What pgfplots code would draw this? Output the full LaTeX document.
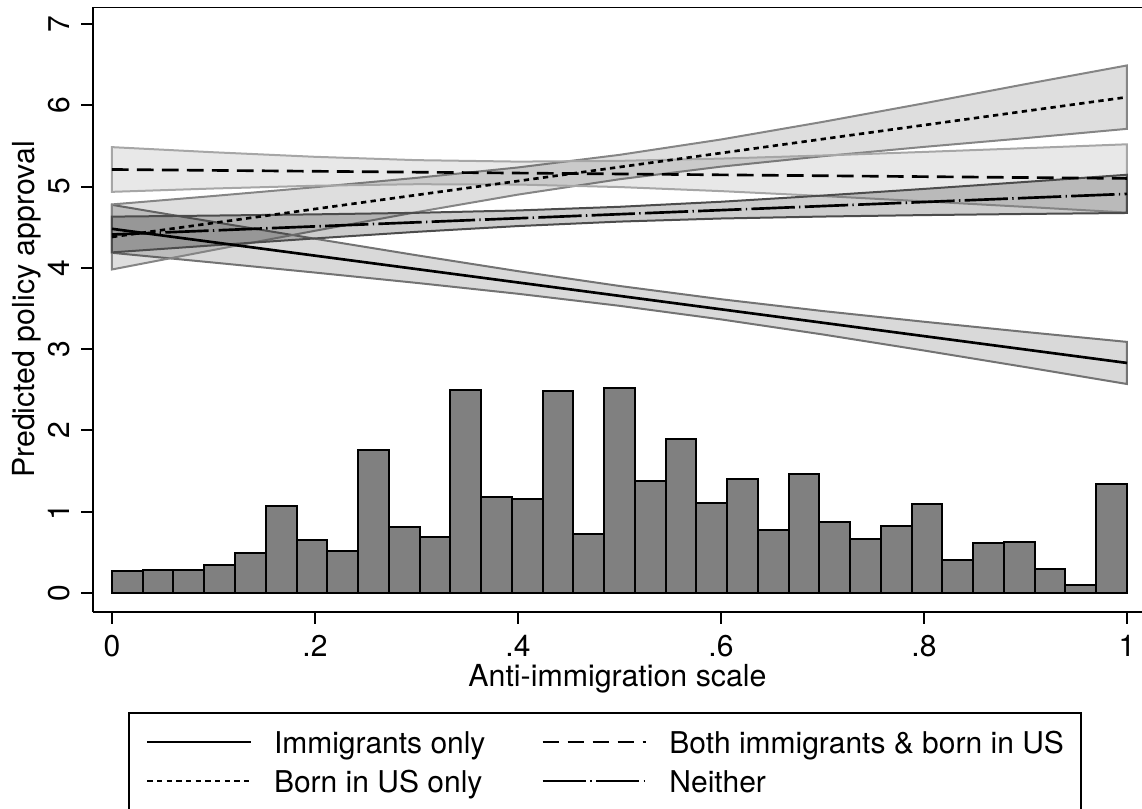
\documentclass[border=0pt]{standalone}
\usepackage{pgfplots}
\pgfplotsset{compat=1.18}
\usepackage{fontspec}
\setmainfont{TeX Gyre Heros}
\newcommand{\ff}{\fontsize{9}{10.8}\selectfont}
\newcommand{\fl}{\fontsize{9.1}{11}\selectfont}
\newcommand{\ft}{\fontsize{9}{10.8}\selectfont}
\begin{document}
\begin{tikzpicture}
\begin{axis}[
  scale only axis,
  width=314.7pt, height=181.5pt,
  xmin=-0.0187, xmax=1.0148,
  ymin=-0.234, ymax=7.209,
  axis x line*=bottom, axis y line*=left,
  axis line style={line width=0.6pt},
  tick align=outside,
  major tick length=3.5pt,
  every tick/.style={line width=0.6pt, black},
  xtick={0,0.2,0.4,0.6,0.8,1},
  xticklabels={0,.2,.4,.6,.8,1},
  ytick={0,1,2,3,4,5,6,7},
  /pgf/number format/assume math mode=true,
  tick label style={font=\ft},
  yticklabel style={rotate=90, anchor=south},
  xlabel={Anti-immigration scale},
  ylabel={Predicted policy approval},
  every axis x label/.style={at={(axis description cs:0.5,-0.1107)}, anchor=center, font=\fl},
  every axis y label/.style={at={(axis description cs:-0.0629,0.5)}, rotate=90, anchor=center, font=\fl},
  legend columns=2,
  legend cell align=left,
  legend style={at={(axis description cs:0.03337,-0.1653)}, anchor=north west,
    draw=black, line width=0.6pt, font=\ff,
    inner xsep=5.1pt, inner ysep=5.5pt,
    nodes={inner sep=0pt, text height=6.5pt, text depth=1.9pt},
    column sep=6.6pt, row sep=3.3pt,
    /tikz/every even column/.append style={column sep=16.8pt}},
  legend image code/.code={\draw[#1, line width=0.8pt] (0pt,1.0pt) -- (31pt,1.0pt);},
]
\coordinate (bbsw) at (rel axis cs:-0.08866,-0.324);
\coordinate (bbne) at (rel axis cs:1,1.01157);
\draw[line width=0.6pt] (rel axis cs:0,1) -- (rel axis cs:1,1);

% histogram
\addplot[ybar interval, fill=black!50, draw=black, line width=0.6pt, forget plot] coordinates {
(0,0.27) (0.030303,0.28) (0.060606,0.28) (0.090909,0.34) (0.121212,0.49)
(0.151515,1.07) (0.181818,0.65) (0.212121,0.52) (0.242424,1.76) (0.272727,0.81)
(0.303030,0.69) (0.333333,2.50) (0.363636,1.18) (0.393939,1.16) (0.424242,2.48)
(0.454545,0.73) (0.484848,2.52) (0.515152,1.38) (0.545455,1.89) (0.575758,1.11)
(0.606061,1.40) (0.636364,0.77) (0.666667,1.46) (0.696970,0.87) (0.727273,0.66)
(0.757576,0.82) (0.787879,1.09) (0.818182,0.41) (0.848485,0.61) (0.878788,0.63)
(0.909091,0.30) (0.939394,0.10) (0.969697,1.34) (1,0)
};

% confidence bands
\addplot[draw=black!55, line width=0.6pt, fill=black, fill opacity=0.15, forget plot] coordinates {
(0,4.775) (0.1,4.565) (0.2,4.358) (0.3,4.155) (0.4,3.959) (0.5,3.777) (0.6,3.614) (0.7,3.469) (0.8,3.337) (0.9,3.211) (1,3.089)
(1,2.571) (0.9,2.779) (0.8,2.983) (0.7,3.181) (0.6,3.366) (0.5,3.533) (0.4,3.681) (0.3,3.815) (0.2,3.942) (0.1,4.065) (0,4.185)
} -- cycle;
\addplot[draw=black!48, line width=0.6pt, fill=black, fill opacity=0.13, forget plot] coordinates {
(0,4.78) (0.1,4.884) (0.2,4.992) (0.3,5.107) (0.4,5.235) (0.5,5.39) (0.6,5.579) (0.7,5.795) (0.8,6.024) (0.9,6.26) (1,6.49)
(1,5.71) (0.9,5.596) (0.8,5.488) (0.7,5.373) (0.6,5.245) (0.5,5.09) (0.4,4.901) (0.3,4.685) (0.2,4.456) (0.1,4.22) (0,3.98)
} -- cycle;
\addplot[draw=black!35, line width=0.6pt, fill=black, fill opacity=0.09, forget plot] coordinates {
(0,5.485) (0.1,5.422) (0.2,5.366) (0.3,5.325) (0.4,5.307) (0.5,5.316) (0.6,5.344) (0.7,5.382) (0.8,5.426) (0.9,5.472) (1,5.52)
(1,4.68) (0.9,4.75) (0.8,4.818) (0.7,4.884) (0.6,4.944) (0.5,4.994) (0.4,5.025) (0.3,5.029) (0.2,5.01) (0.1,4.976) (0,4.935)
} -- cycle;
\addplot[draw=black!70, line width=0.6pt, fill=black, fill opacity=0.2, forget plot] coordinates {
(0,4.63) (0.1,4.643) (0.2,4.658) (0.3,4.677) (0.4,4.706) (0.5,4.751) (0.6,4.813) (0.7,4.889) (0.8,4.971) (0.9,5.057) (1,5.145)
(1,4.675) (0.9,4.663) (0.8,4.649) (0.7,4.631) (0.6,4.607) (0.5,4.569) (0.4,4.514) (0.3,4.443) (0.2,4.362) (0.1,4.277) (0,4.19)
} -- cycle;

% fitted lines
\addplot[black, line width=0.8pt] coordinates {(0,4.48) (1,2.83)};
\addlegendentry{Immigrants only}
\addplot[black, line width=0.8pt, dash pattern=on 5pt off 2.5pt] coordinates {(0,5.21) (1,5.10)};
\addlegendentry{Both immigrants \& born in US\hspace{5.7pt}}
\addplot[black, line width=0.8pt, dash pattern=on 1.6pt off 1.3pt] coordinates {(0,4.38) (1,6.10)};
\addlegendentry{Born in US only}
\addplot[black, line width=0.8pt, dash pattern=on 13pt off 1.3pt on 0.4pt off 1.3pt] coordinates {(0,4.41) (1,4.91)};
\addlegendentry{Neither}
\end{axis}
\pgfresetboundingbox
\path (bbsw) rectangle (bbne);
\end{tikzpicture}
\end{document}
